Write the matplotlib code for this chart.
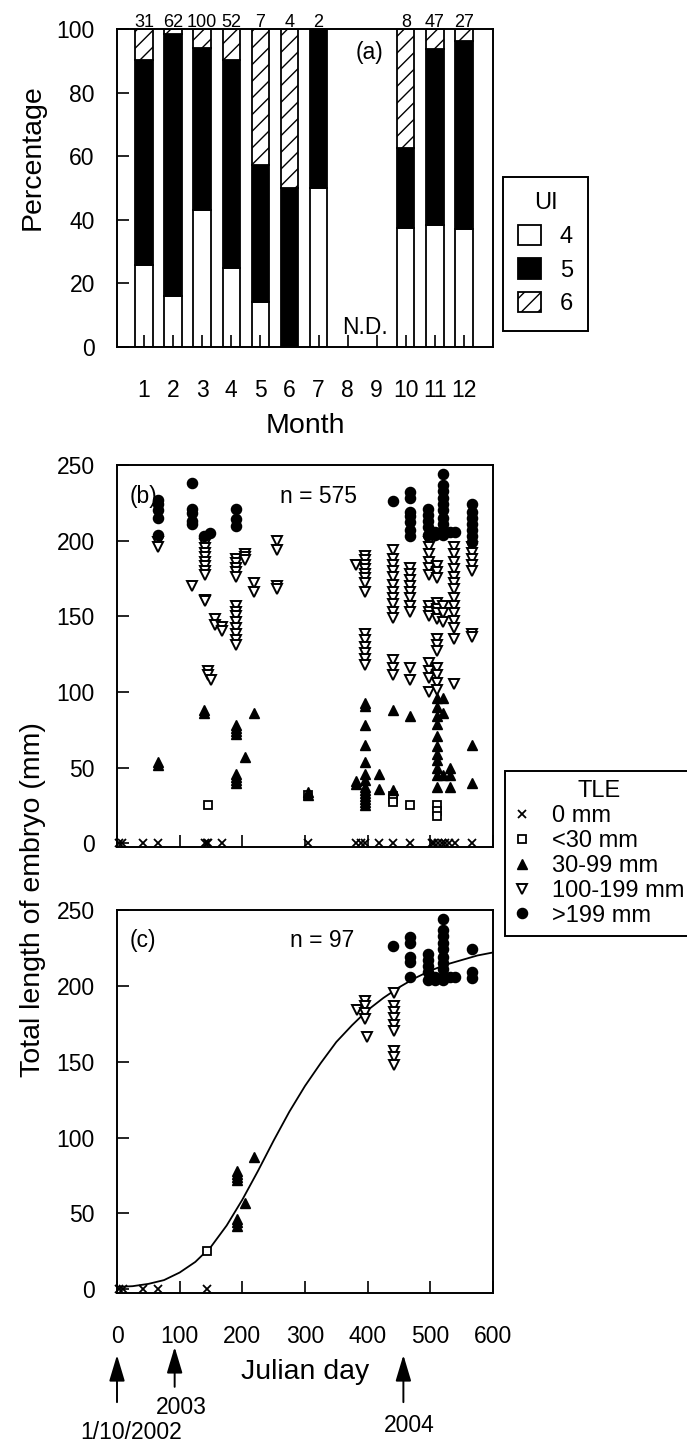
import numpy as np
import matplotlib.pyplot as plt
from matplotlib.lines import Line2D

plt.rcParams['font.family'] = ['Liberation Sans', 'DejaVu Sans']
plt.rcParams['hatch.linewidth'] = 1.0

###############################################################################
# data

# (a) uterine index composition by month (percent)
months = [1, 2, 3, 4, 5, 6, 7, 10, 11, 12]
pct_ui4 = [25.8, 16.1, 43.0, 25.0, 14.3, 0.0, 50.0, 37.5, 38.3, 37.0]
pct_ui5 = [64.5, 82.3, 51.0, 65.4, 42.9, 50.0, 50.0, 25.0, 55.3, 59.3]
pct_ui6 = [9.7, 1.6, 6.0, 9.6, 42.8, 50.0, 0.0, 37.5, 6.4, 3.7]
n_month = [31, 62, 100, 52, 7, 4, 2, 8, 47, 27]

# (b) all embryos: (julian day, [total lengths])
b_zero = [(3, [0]), (8, [0]), (41, [0]), (66, [0]), (140, [0]), (143, [0]), (146, [0]),
          (168, [0]), (304, [0]), (382, [0]), (390, [0]), (396, [0]), (418, [0]),
          (440, [0]), (468, [0]), (502, [0]), (506, [0]), (512, [0]), (518, [0]),
          (524, [0]), (530, [0]), (540, [0]), (566, [0])]
b_lt30 = [(145, [25]), (304, [32]), (440, [31, 29, 27]), (468, [25]), (510, [25, 21, 18])]
b_30_99 = [(66, [54, 52]), (139, [88, 86]), (190, [78, 76, 74, 72, 46, 44, 42, 40]),
           (205, [57]), (219, [86]), (304, [34, 32]), (382, [41, 39]),
           (396, [93, 91, 78, 65, 54, 46, 42, 37, 35, 33, 31, 29, 27, 25]),
           (418, [46, 36]), (440, [88, 35]), (468, [84]),
           (510, [96, 90, 84, 79, 71, 64, 59, 55, 50, 45, 37]),
           (521, [96, 86, 45]), (532, [50, 45, 37]), (566, [65, 40])]
b_100_199 = [(66, [199, 196]), (119, [170]),
             (140, [198, 195, 192, 189, 186, 183, 180, 177, 161, 160]),
             (145, [114, 111]), (150, [108]), (157, [148, 144]), (168, [143, 140]),
             (190, [188, 185, 182, 179, 176, 157, 153, 150, 146, 142, 138, 134, 131]),
             (205, [191, 189, 187]), (219, [172, 166]), (255, [200, 194, 170, 168]),
             (382, [184]),
             (396, [190, 187, 184, 181, 178, 175, 172, 166, 138, 134, 130, 126, 122, 118]),
             (440, [194, 188, 184, 180, 176, 171, 166, 162, 158, 153, 149, 121, 116, 111]),
             (468, [182, 178, 174, 170, 166, 162, 157, 153, 116, 108]),
             (498, [199, 196, 191, 186, 182, 177, 157, 153, 150, 119, 114, 109, 100]),
             (510, [183, 179, 175, 159, 155, 152, 148, 135, 131, 127, 116, 111, 106, 101]),
             (521, [157, 152, 146]),
             (537, [196, 191, 186, 181, 176, 172, 168, 162, 157, 152, 147, 142, 135, 105]),
             (566, [196, 192, 188, 184, 180, 138, 136])]
b_gt199 = [(66, [227, 224, 220, 215, 204]), (119, [238, 221, 218, 213, 211]),
           (139, [203]), (148, [205]), (190, [221, 214, 210]), (440, [226]),
           (468, [232, 228, 219, 216, 212, 207, 203]), (497, [221, 217, 213, 209, 204]),
           (507, [206, 204]), (521, [244, 237, 233, 228, 224, 220, 215, 211, 207, 204]),
           (532, [206]), (540, [206]), (566, [224, 219, 215, 211, 207, 203, 199])]

# (c) embryos used for growth curve
c_zero = [(3, [0]), (10, [0]), (41, [0]), (66, [0]), (144, [0])]
c_lt30 = [(144, [25])]
c_30_99 = [(191, [46, 44, 42]), (192, [78, 76, 74, 72]), (205, [57]), (218, [87])]
c_100_199 = [(383, [184]), (396, [190, 187, 182, 178]), (399, [166]),
             (442, [195, 187, 183, 179, 174, 170, 157, 153, 148])]
c_gt199 = [(440, [226]), (468, [232, 228, 219, 216, 206]), (497, [221, 217, 213, 209, 204]),
           (507, [206, 204]), (521, [244, 237, 233, 228, 224, 219, 215, 211, 206, 204]),
           (532, [206]), (540, [206]), (566, [224, 209, 205])]

# fitted growth curve
curve_day = [0, 25, 50, 75, 100, 125, 150, 175, 200, 225, 250, 275, 300,
             325, 350, 375, 400, 425, 450, 475, 500, 525, 550, 575, 600]
curve_len = [1.5, 2, 3.5, 6, 11, 18, 28, 42, 59, 78, 98, 117, 134,
             149, 163, 174, 184, 192, 199, 205, 210, 214, 217, 220, 222]

# reference dates on the julian day axis
event_days = [0, 92, 457]
event_labels = ['1/10/2002', '2003', '2004']

tle_labels = ['0 mm', '<30 mm', '30-99 mm', '100-199 mm', '>199 mm']

###############################################################################
W, H = 687, 1445
fig = plt.figure(figsize=(W / 100, H / 100), dpi=100)


def px_axes(left, top, right, bottom):
    return fig.add_axes([left / W, 1 - bottom / H, (right - left) / W, (bottom - top) / H])


def style_axes(ax, xpad):
    for s in ax.spines.values():
        s.set_linewidth(1.4)
    ax.tick_params(axis='both', direction='in', length=8.5, width=1.2, labelsize=16.5)
    ax.tick_params(axis='y', pad=16)
    ax.tick_params(axis='x', pad=xpad)


ax_a = px_axes(117, 29, 493, 347)
ax_b = px_axes(117, 465, 493, 847)
ax_c = px_axes(117, 910, 493, 1293)

# ---------------------------------------------------------------- panel (a)
p4 = np.array(pct_ui4)
p5 = np.array(pct_ui5)
p6 = np.array(pct_ui6)
bw = 0.6
bar4 = ax_a.bar(months, p4, bw, color='white', edgecolor='black', linewidth=1.3)
bar5 = ax_a.bar(months, p5, bw, bottom=p4, color='black', edgecolor='black', linewidth=1.3)
bar6 = ax_a.bar(months, p6, bw, bottom=p4 + p5, color='white', edgecolor='black',
                linewidth=1.3, hatch='//')

for m, n in zip(months, n_month):
    ax_a.annotate(str(n), xy=(m, 100), xytext=(0, 1.5), textcoords='offset points',
                  ha='center', va='baseline', fontsize=13, annotation_clip=False)

ax_a.text(8.77, 92.5, '(a)', ha='center', va='center', fontsize=16.5)
ax_a.text(8.6, 6, 'N.D.', ha='center', va='center', fontsize=16.5)

ax_a.set_xlim(0.07, 13.0)
ax_a.set_ylim(0, 100)
ax_a.set_xticks(range(1, 13))
ax_a.set_yticks([0, 20, 40, 60, 80, 100])
style_axes(ax_a, 23)
ax_a.set_xlabel('Month', fontsize=20.5, labelpad=8)
fig.text(33 / W, 1 - 157 / H, 'Percentage', rotation=90, ha='center', va='center', fontsize=20.5)

# ---------------------------------------------------------------- panels (b), (c)
mk = {
    'zero': dict(marker='x', ms=6, mew=1.3, mec='black', mfc='none'),
    'lt30': dict(marker='s', ms=5.5, mew=1.3, mec='black', mfc='white'),
    '30_99': dict(marker='^', ms=7.5, mew=1.0, mec='black', mfc='black'),
    '100_199': dict(marker='v', ms=7.5, mew=1.4, mec='black', mfc='white'),
    'gt199': dict(marker='o', ms=7.3, mew=1.0, mec='black', mfc='black'),
}


def plot_group(ax, groups, style):
    xs, ys = [], []
    for day, lens in groups:
        xs.extend([day] * len(lens))
        ys.extend(lens)
    ax.plot(xs, ys, linestyle='none', clip_on=False, **style)


for key, grp in zip(mk, [b_zero, b_lt30, b_30_99, b_100_199, b_gt199]):
    plot_group(ax_b, grp, mk[key])

ax_c.plot(curve_day, curve_len, color='black', linewidth=1.3)
for key, grp in zip(mk, [c_zero, c_lt30, c_30_99, c_100_199, c_gt199]):
    plot_group(ax_c, grp, mk[key])

ax_b.text(43, 229, '(b)', ha='center', va='center', fontsize=16.5)
ax_b.text(322, 229, 'n = 575', ha='center', va='center', fontsize=16.5)
ax_c.text(41, 230, '(c)', ha='center', va='center', fontsize=16.5)
ax_c.text(328, 230, 'n = 97', ha='center', va='center', fontsize=16.5)

for ax in (ax_b, ax_c):
    ax.set_xlim(0, 600)
    ax.set_ylim(-2.5, 250)
    ax.set_xticks(range(0, 700, 100))
    ax.set_yticks(range(0, 300, 50))
    style_axes(ax, 23)
ax_b.tick_params(axis='x', labelbottom=False)
ax_c.set_xlabel('Julian day', fontsize=20.5, labelpad=8)
fig.text(33 / W, 1 - 900 / H, 'Total length of embryo (mm)', rotation=90,
         ha='center', va='center', fontsize=20.5)

# date arrows under panel (c)
trans = ax_c.get_xaxis_transform()
arrow_geom = [(-0.162, -0.285, 22, -0.363), (-0.141, -0.245, 11, -0.300),
              (-0.162, -0.285, 10, -0.345)]
for d, lab, (tip, tail, dx, ty) in zip(event_days, event_labels, arrow_geom):
    ax_c.annotate('', xy=(d, tip), xytext=(d, tail), xycoords=trans, textcoords=trans,
                  annotation_clip=False,
                  arrowprops=dict(arrowstyle='-|>,head_length=0.8,head_width=0.24',
                                  mutation_scale=20, color='black', lw=1.4,
                                  shrinkA=0, shrinkB=0))
    ax_c.text(d + dx, ty, lab, transform=trans, ha='center', va='center',
              fontsize=16.5, clip_on=False)

# ---------------------------------------------------------------- legends
leg_ui = fig.legend([bar4, bar5, bar6], ['4', '5', '6'], title='UI', loc='upper left',
                    bbox_to_anchor=(503 / W, 1 - 177 / H), borderaxespad=0,
                    fontsize=17, title_fontsize=17, fancybox=False, edgecolor='black',
                    framealpha=1, handlelength=0.95, handleheight=0.95,
                    handletextpad=0.8, labelspacing=0.44, borderpad=0.65)
leg_ui.get_frame().set_linewidth(1.4)

tle_handles = [Line2D([], [], linestyle='none', **mk[k]) for k in mk]
leg_tle = fig.legend(tle_handles, tle_labels, title='TLE', loc='upper left',
                     bbox_to_anchor=(505 / W, 1 - 771 / H), borderaxespad=0,
                     fontsize=17, title_fontsize=17, fancybox=False, edgecolor='black',
                     framealpha=1, handlelength=0.6, handletextpad=1.0,
                     labelspacing=0.12, borderpad=0.4)
leg_tle.get_frame().set_linewidth(1.4)

fig.savefig('out.png', dpi=100)
